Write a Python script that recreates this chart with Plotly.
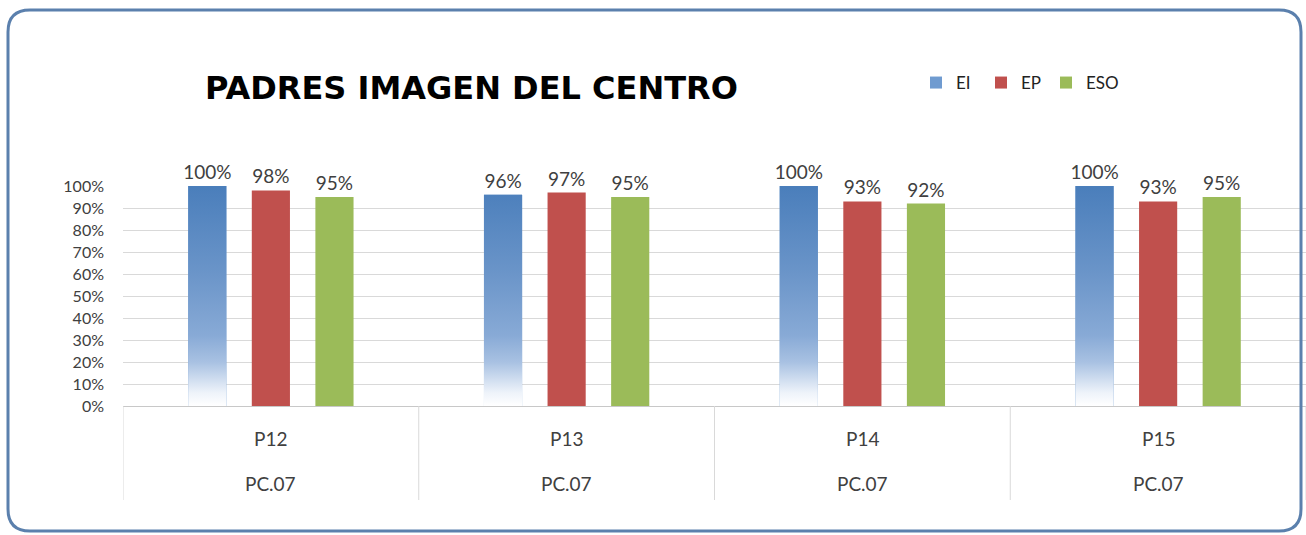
import plotly.graph_objects as go

# ---- data ----
preguntas = ["P12", "P13", "P14", "P15"]
grupo = ["PC.07", "PC.07", "PC.07", "PC.07"]
ei = [1.00, 0.96, 1.00, 1.00]
ep = [0.98, 0.97, 0.93, 0.93]
eso = [0.95, 0.95, 0.92, 0.95]
yticks = [i / 10 for i in range(11)]
ytick_text = [f"{i*10}%" for i in range(11)]
title_text = "PADRES IMAGEN DEL CENTRO"

W, H = 1306, 535
L, R, T, B = 123, 0, 186, 129
FONT = "Lato, 'Open Sans', sans-serif"
TXT = "#404040"

BARGAP, GROUPGAP = 0.355, 0.4
slot = (1 - BARGAP) / 3
bw = slot * (1 - GROUPGAP)

xs = list(range(len(preguntas)))

def pct(v):
    return [f"{round(x*100)}%" for x in v]

fig = go.Figure()
series = [("EI", ei, "#6f9bd0", "legend", 916),
          ("EP", ep, "#c0504d", "legend2", 981),
          ("ESO", eso, "#9bbb59", "legend3", 1046)]
for name, vals, col, lg, _ in series:
    fig.add_trace(go.Bar(
        x=xs, y=vals, name=name, legend=lg,
        marker=dict(color=col, line=dict(width=0)),
        text=pct(vals), textposition="outside", cliponaxis=False,
        constraintext="none",
        textfont=dict(family=FONT, size=19, color=TXT),
    ))

# gradient overlay for EI bars (fill from each value through the axes)
for i, v in zip(xs, ei):
    c = i - slot
    x0, x1 = c - bw / 2, c + bw / 2
    fig.add_trace(go.Scatter(
        x=[x0, x1, x1, x0, x0], y=[0, 0, v, v, 0], mode="lines",
        line=dict(width=0), fill="toself", showlegend=False, hoverinfo="skip",
        fillgradient=dict(type="vertical", start=0, stop=1,
                          colorscale=[[0, "#ffffff"], [0.06, "#eef3fa"],
                                      [0.2, "#a8c1e2"], [0.32, "#88aad6"],
                                      [0.6, "#6b95c9"], [1, "#4a7ebb"]]),
    ))

leg_common = dict(orientation="h", xref="container", yref="container",
                  y=1 - 83 / H, xanchor="left", yanchor="middle",
                  font=dict(family=FONT, size=17, color="#222222"),
                  bgcolor="rgba(0,0,0,0)")
legs = {}
for name, vals, col, lg, lx in series:
    legs[lg] = dict(leg_common, x=lx / W)

fig.update_layout(
    width=W, height=H, margin=dict(l=L, r=R, t=T, b=B),
    paper_bgcolor="white", plot_bgcolor="white",
    barmode="group", bargap=BARGAP, bargroupgap=GROUPGAP,
    font=dict(family=FONT, color=TXT),
    title=dict(text=f"<b>{title_text}</b>", x=205 / W, xanchor="left",
               y=1 - 88 / H, yanchor="middle", xref="container", yref="container",
               font=dict(family="'DejaVu Sans', sans-serif", size=32, color="#000000")),
    showlegend=True,
    **legs,
)
fig.update_xaxes(range=[-0.5, len(preguntas) - 0.5], showticklabels=False,
                 showgrid=False, zeroline=False, showline=True,
                 linecolor="#c8c8c8", linewidth=1, fixedrange=True)
fig.update_yaxes(range=[0, 1], tickvals=yticks, ticktext=ytick_text,
                 showgrid=True, gridcolor="#d9d9d9", gridwidth=1, zeroline=False,
                 showline=False, ticks="", ticklabelstandoff=18,
                 tickfont=dict(family=FONT, size=16, color=TXT))

# category dividers
for k in range(len(preguntas) + 1):
    fig.add_shape(type="line", xref="x", yref="paper", x0=k - 0.5, x1=k - 0.5,
                  y0=0, y1=(406 - 500) / 220, line=dict(color="#d9d9d9", width=1))

# two-row category labels
for i, (p, g) in enumerate(zip(preguntas, grupo)):
    fig.add_annotation(x=i, y=(406 - 438) / 220, xref="x", yref="paper", text=p,
                       showarrow=False, yanchor="middle",
                       font=dict(family=FONT, size=19, color=TXT))
    fig.add_annotation(x=i, y=(406 - 483) / 220, xref="x", yref="paper", text=g,
                       showarrow=False, yanchor="middle",
                       font=dict(family=FONT, size=19, color=TXT))

# rounded outer border
pw, ph = W - L - R, H - T - B
def px(x): return (x - L) / pw
def py(y): return (H - B - y) / ph
xa, xb, ya, yb, r = 8, 1301, 10, 531, 22
path = (f"M {px(xa+r)},{py(ya)} L {px(xb-r)},{py(ya)} Q {px(xb)},{py(ya)} {px(xb)},{py(ya+r)} "
        f"L {px(xb)},{py(yb-r)} Q {px(xb)},{py(yb)} {px(xb-r)},{py(yb)} "
        f"L {px(xa+r)},{py(yb)} Q {px(xa)},{py(yb)} {px(xa)},{py(yb-r)} "
        f"L {px(xa)},{py(ya+r)} Q {px(xa)},{py(ya)} {px(xa+r)},{py(ya)} Z")
fig.add_shape(type="path", xref="paper", yref="paper", path=path,
              line=dict(color="#5b80ad", width=3), layer="above")

fig.write_html("out.html", config={"displayModeBar": False},
               post_script="document.body.style.margin='0px';document.body.style.overflow='hidden';")
